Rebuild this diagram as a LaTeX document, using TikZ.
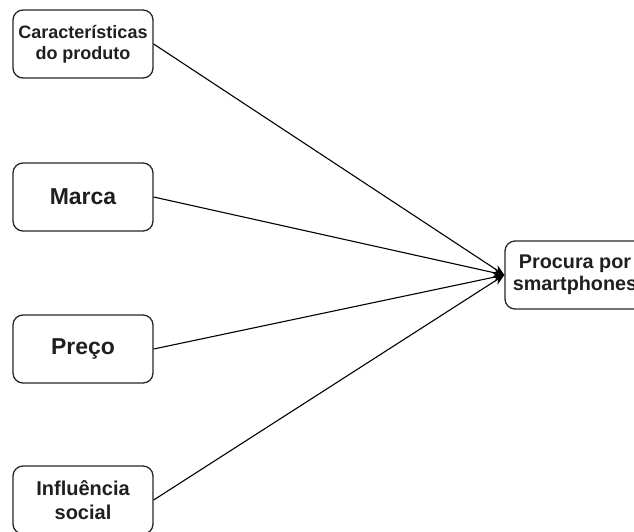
\documentclass[tikz,border=0pt]{standalone}
\usepackage{fontspec}
\setmainfont{Liberation Sans}
\usetikzlibrary{arrows.meta}

\begin{document}
\begin{tikzpicture}[x=1pt, y=-1pt,
  box/.style={draw=black!85, line width=1.3pt, rounded corners=10pt,
    minimum width=140pt, minimum height=68pt, align=center,
    inner sep=0pt, text=black!88},
  link/.style={draw=black, line width=1.1pt, -{Stealth[length=11pt, width=9pt]}}]
  \useasboundingbox (0,0) rectangle (634,531);

  % input factors
  \node[box, font=\bfseries\fontsize{18}{21}\selectfont] (carac) at (83,44) {Características\\do produto};
  \node[box, font=\bfseries\fontsize{23}{26}\selectfont] (marca) at (83,197) {Marca};
  \node[box, font=\bfseries\fontsize{23}{26}\selectfont] (preco) at (83,349) {Preço};
  \node[box, font=\bfseries\fontsize{20}{24}\selectfont] (influ) at (83,500) {Influência\\social};

  % outcome
  \node[box, font=\bfseries\fontsize{19.8}{22}\selectfont] (procura) at (575,275) {Procura por\\smartphones};

  % connectors
  \draw[link] (carac.east) -- (procura.west);
  \draw[link] (marca.east) -- (procura.west);
  \draw[link] (preco.east) -- (procura.west);
  \draw[link] (influ.east) -- (procura.west);
\end{tikzpicture}
\end{document}
